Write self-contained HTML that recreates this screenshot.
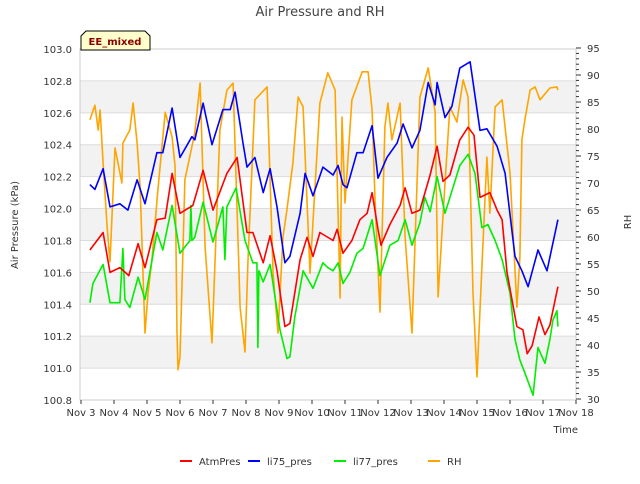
<!DOCTYPE html>
<html><head><meta charset="utf-8"><style>
body{margin:0;background:#fff;font-family:"DejaVu Sans","Liberation Sans",sans-serif;}
svg text{font-family:"DejaVu Sans","Liberation Sans",sans-serif;}
</style></head><body>
<svg id="c" width="640" height="480" xmlns="http://www.w3.org/2000/svg"></svg>
<script>
const atmT=[0.27,0.67,0.88,1.18,1.45,1.73,1.94,2.30,2.55,2.76,3.00,3.39,3.70,4.00,4.42,4.73,5.03,5.21,5.52,5.73,5.94,6.18,6.33,6.64,6.85,7.03,7.24,7.64,7.76,7.94,8.21,8.45,8.67,8.82,9.00,9.09,9.36,9.67,9.82,10.03,10.27,10.58,10.79,10.97,11.18,11.48,11.73,11.91,12.09,12.39,12.61,12.76,12.91,13.21,13.39,13.52,13.67,13.88,14.06,14.21,14.45];
const atmV=[101.74,101.85,101.60,101.63,101.58,101.78,101.63,101.93,101.94,102.22,101.97,102.02,102.24,101.99,102.22,102.32,101.85,101.85,101.66,101.83,101.61,101.26,101.28,101.68,101.82,101.70,101.85,101.80,101.87,101.72,101.80,101.93,101.97,102.10,101.87,101.77,101.90,102.02,102.13,101.97,101.99,102.21,102.39,102.17,102.21,102.43,102.51,102.46,102.07,102.10,101.99,101.93,101.60,101.26,101.24,101.09,101.14,101.32,101.21,101.27,101.51];
const l75T=[0.27,0.42,0.67,0.88,1.18,1.42,1.70,1.94,2.30,2.48,2.76,3.00,3.36,3.45,3.70,3.97,4.30,4.52,4.67,4.91,5.03,5.27,5.52,5.73,5.94,6.18,6.33,6.64,6.79,7.03,7.33,7.64,7.79,7.94,8.06,8.36,8.55,8.82,9.00,9.27,9.58,9.76,10.03,10.27,10.52,10.73,10.79,11.03,11.24,11.48,11.79,12.09,12.30,12.61,12.85,13.15,13.36,13.55,13.85,14.12,14.45];
const l75V=[102.15,102.12,102.25,102.01,102.03,101.99,102.18,102.03,102.35,102.35,102.63,102.32,102.45,102.43,102.66,102.40,102.62,102.62,102.73,102.41,102.26,102.32,102.10,102.25,102.01,101.66,101.70,101.97,102.22,102.08,102.26,102.21,102.27,102.15,102.13,102.35,102.35,102.52,102.19,102.32,102.41,102.53,102.38,102.49,102.79,102.65,102.79,102.57,102.64,102.88,102.92,102.49,102.50,102.39,102.22,101.70,101.61,101.51,101.74,101.61,101.93];
const l77T=[0.27,0.36,0.67,0.88,1.18,1.27,1.33,1.48,1.73,1.94,2.30,2.48,2.76,3.00,3.30,3.33,3.36,3.45,3.70,4.00,4.30,4.36,4.42,4.70,4.97,5.21,5.33,5.36,5.39,5.52,5.73,6.03,6.24,6.33,6.48,6.73,7.03,7.33,7.48,7.64,7.79,7.94,8.15,8.36,8.55,8.82,9.06,9.36,9.61,9.82,10.03,10.27,10.42,10.58,10.79,11.03,11.27,11.48,11.73,11.94,12.15,12.33,12.55,12.76,13.00,13.15,13.30,13.45,13.70,13.85,14.06,14.21,14.30,14.42,14.45];
const l77V=[101.41,101.53,101.65,101.41,101.41,101.75,101.43,101.38,101.57,101.43,101.85,101.74,102.02,101.72,101.80,102.02,101.80,101.82,102.04,101.79,102.01,101.68,102.01,102.13,101.80,101.66,101.66,101.13,101.61,101.54,101.65,101.24,101.06,101.07,101.32,101.61,101.50,101.66,101.63,101.61,101.66,101.53,101.60,101.72,101.75,101.93,101.58,101.77,101.80,101.93,101.77,101.91,102.07,101.98,102.20,101.97,102.13,102.27,102.34,102.22,101.88,101.90,101.80,101.68,101.47,101.18,101.05,100.97,100.83,101.13,101.03,101.18,101.30,101.36,101.26];
const rhT=[0.27,0.42,0.52,0.58,0.67,0.79,0.88,1.03,1.24,1.27,1.48,1.58,1.70,1.79,1.94,2.03,2.15,2.33,2.55,2.76,2.85,2.91,2.94,3.00,3.15,3.45,3.61,3.76,3.97,4.21,4.42,4.61,4.82,4.97,5.06,5.27,5.64,5.82,5.97,6.12,6.24,6.42,6.58,6.73,6.94,7.24,7.48,7.70,7.85,7.91,8.00,8.21,8.52,8.70,8.82,8.91,9.06,9.21,9.30,9.42,9.67,9.82,10.03,10.27,10.52,10.73,10.82,11.03,11.18,11.39,11.58,11.73,11.88,12.00,12.15,12.30,12.39,12.55,12.76,13.00,13.21,13.30,13.36,13.45,13.61,13.76,13.91,14.21,14.42,14.45];
const rhV=[81.7,84.4,79.8,83.5,73.7,61.9,55.4,76.5,70,77.4,79.8,84.8,77.4,69.3,42.2,49.6,55.7,68.7,83.1,78.5,73,42.2,35.4,37.8,70.6,79.3,88.5,58.1,40.4,79.8,87.2,88.5,47,38.7,55.7,85.4,87.8,53.3,42.2,60,65,73.7,85.9,84.1,53.3,84.8,90.4,87.2,48.7,82.2,66.3,85.4,90.6,90.6,83.5,66.9,46.1,80.4,84.8,78,84.8,60,42.2,85.9,91.3,83.1,48.9,70,84.1,81.3,89.1,85.9,49.6,34.1,54.4,74.8,64.4,84.1,85.4,71.9,47,56.3,78,81.7,87.2,87.8,85.4,87.6,87.8,87.2];
const xTicks=["Nov 3","Nov 4","Nov 5","Nov 6","Nov 7","Nov 8","Nov 9","Nov 10","Nov 11","Nov 12","Nov 13","Nov 14","Nov 15","Nov 16","Nov 17","Nov 18"];
const yTicks=[100.8,101.0,101.2,101.4,101.6,101.8,102.0,102.2,102.4,102.6,102.8,103.0];
const rTicks=[30,35,40,45,50,55,60,65,70,75,80,85,90,95];

const L=80,R=576,T=49,B=400;
const sx=d=>L+1+d*(R-L-1)/15;
const sy=v=>B-(v-100.8)*(B-T)/2.2;
const sr=v=>B-1-(v-30)*(B-1-48)/65;
const svg=document.getElementById('c');
const NS='http://www.w3.org/2000/svg';
function mk(tag,attrs,txt){const e=document.createElementNS(NS,tag);for(const k in attrs)e.setAttribute(k,attrs[k]);if(txt!==undefined)e.textContent=txt;svg.appendChild(e);return e;}

let e;
e=mk('text',{x:320,y:16,'text-anchor':'middle','font-size':13,fill:'#444'},'Air Pressure and RH');


// bands
for(let i=0;i<yTicks.length-1;i++){
  if(i%2===1){e=mk('rect',{x:L,y:sy(yTicks[i+1]),width:R-L,height:sy(yTicks[i])-sy(yTicks[i+1]),fill:'#f2f2f2'});
  
  }
}
yTicks.forEach(v=>{
  e=mk('line',{x1:L,x2:R,y1:sy(v),y2:sy(v),stroke:'#dcdcdc','stroke-width':1});
  
  
  e=mk('text',{x:72,y:sy(v)+4,'text-anchor':'end','font-size':10,fill:'#333'},v.toFixed(1));
  
  
});
e=mk('rect',{x:L,y:T,width:R-L,height:B-T,fill:'none',stroke:'#ccc'});


xTicks.forEach((t,i)=>{
  e=mk('line',{x1:sx(i),x2:sx(i),y1:B,y2:B+4,stroke:'#333'});
  
  
  e=mk('text',{x:sx(i),y:B+16,'text-anchor':'middle','font-size':10,fill:'#333'},t);
  
  
});
for(let v=30;v<=95;v++){
  e=mk('line',{x1:R,x2:R+(v%5===0?5:3),y1:sr(v),y2:sr(v),stroke:'#333'});
  
  
}
rTicks.forEach(v=>{
  e=mk('text',{x:587,y:sr(v)+4,'font-size':10,fill:'#333'},String(v));
  
  
});
e=mk('text',{x:578,y:433,'text-anchor':'end','font-size':10,fill:'#333'},'Time');


e=mk('text',{x:0,y:0,'text-anchor':'middle','font-size':10,fill:'#333',transform:'translate(18,225) rotate(-90)'},'Air Pressure (kPa)');


e=mk('text',{x:0,y:0,'text-anchor':'middle','font-size':10,fill:'#333',transform:'translate(631,222) rotate(-90)'},'RH');



function line(T_,V_,fy,col,name){
  const p=T_.map((t,i)=>sx(t).toFixed(1)+','+fy(V_[i]).toFixed(1)).join(' ');
  const el=mk('polyline',{points:p,fill:'none',stroke:col,'stroke-width':1.6,'stroke-linejoin':'round'});
  
  
}
line(rhT,rhV,sr,'#ffa500','rh-line');
line(l77T,l77V,sy,'#00ee00','li77-pres-line');
line(atmT,atmV,sy,'#ff0000','atmpres-line');
line(l75T,l75V,sy,'#0000ff','li75-pres-line');

e=mk('path',{d:'M81,50 L81,36 L86,31 L145,31 L150,36 L150,50 Z',fill:'#ffffcc',stroke:'#000','stroke-width':1});


e=mk('text',{x:115,y:45,'text-anchor':'middle','font-size':10,'font-weight':'bold',fill:'#8b0000'},'EE_mixed');



const legNames=['AtmPres','li75_pres','li77_pres','RH'];
const legCols=['#ff0000','#0000ff','#00ee00','#ffa500'];
const legX=[180,248,334,428];
legNames.forEach((n,i)=>{
  e=mk('line',{x1:legX[i],x2:legX[i]+12,y1:461,y2:461,stroke:legCols[i],'stroke-width':2});
  
  
  e=mk('text',{x:legX[i]+19,y:465,'font-size':10,fill:'#333'},n);
  
  
});
</script>
</body></html>
